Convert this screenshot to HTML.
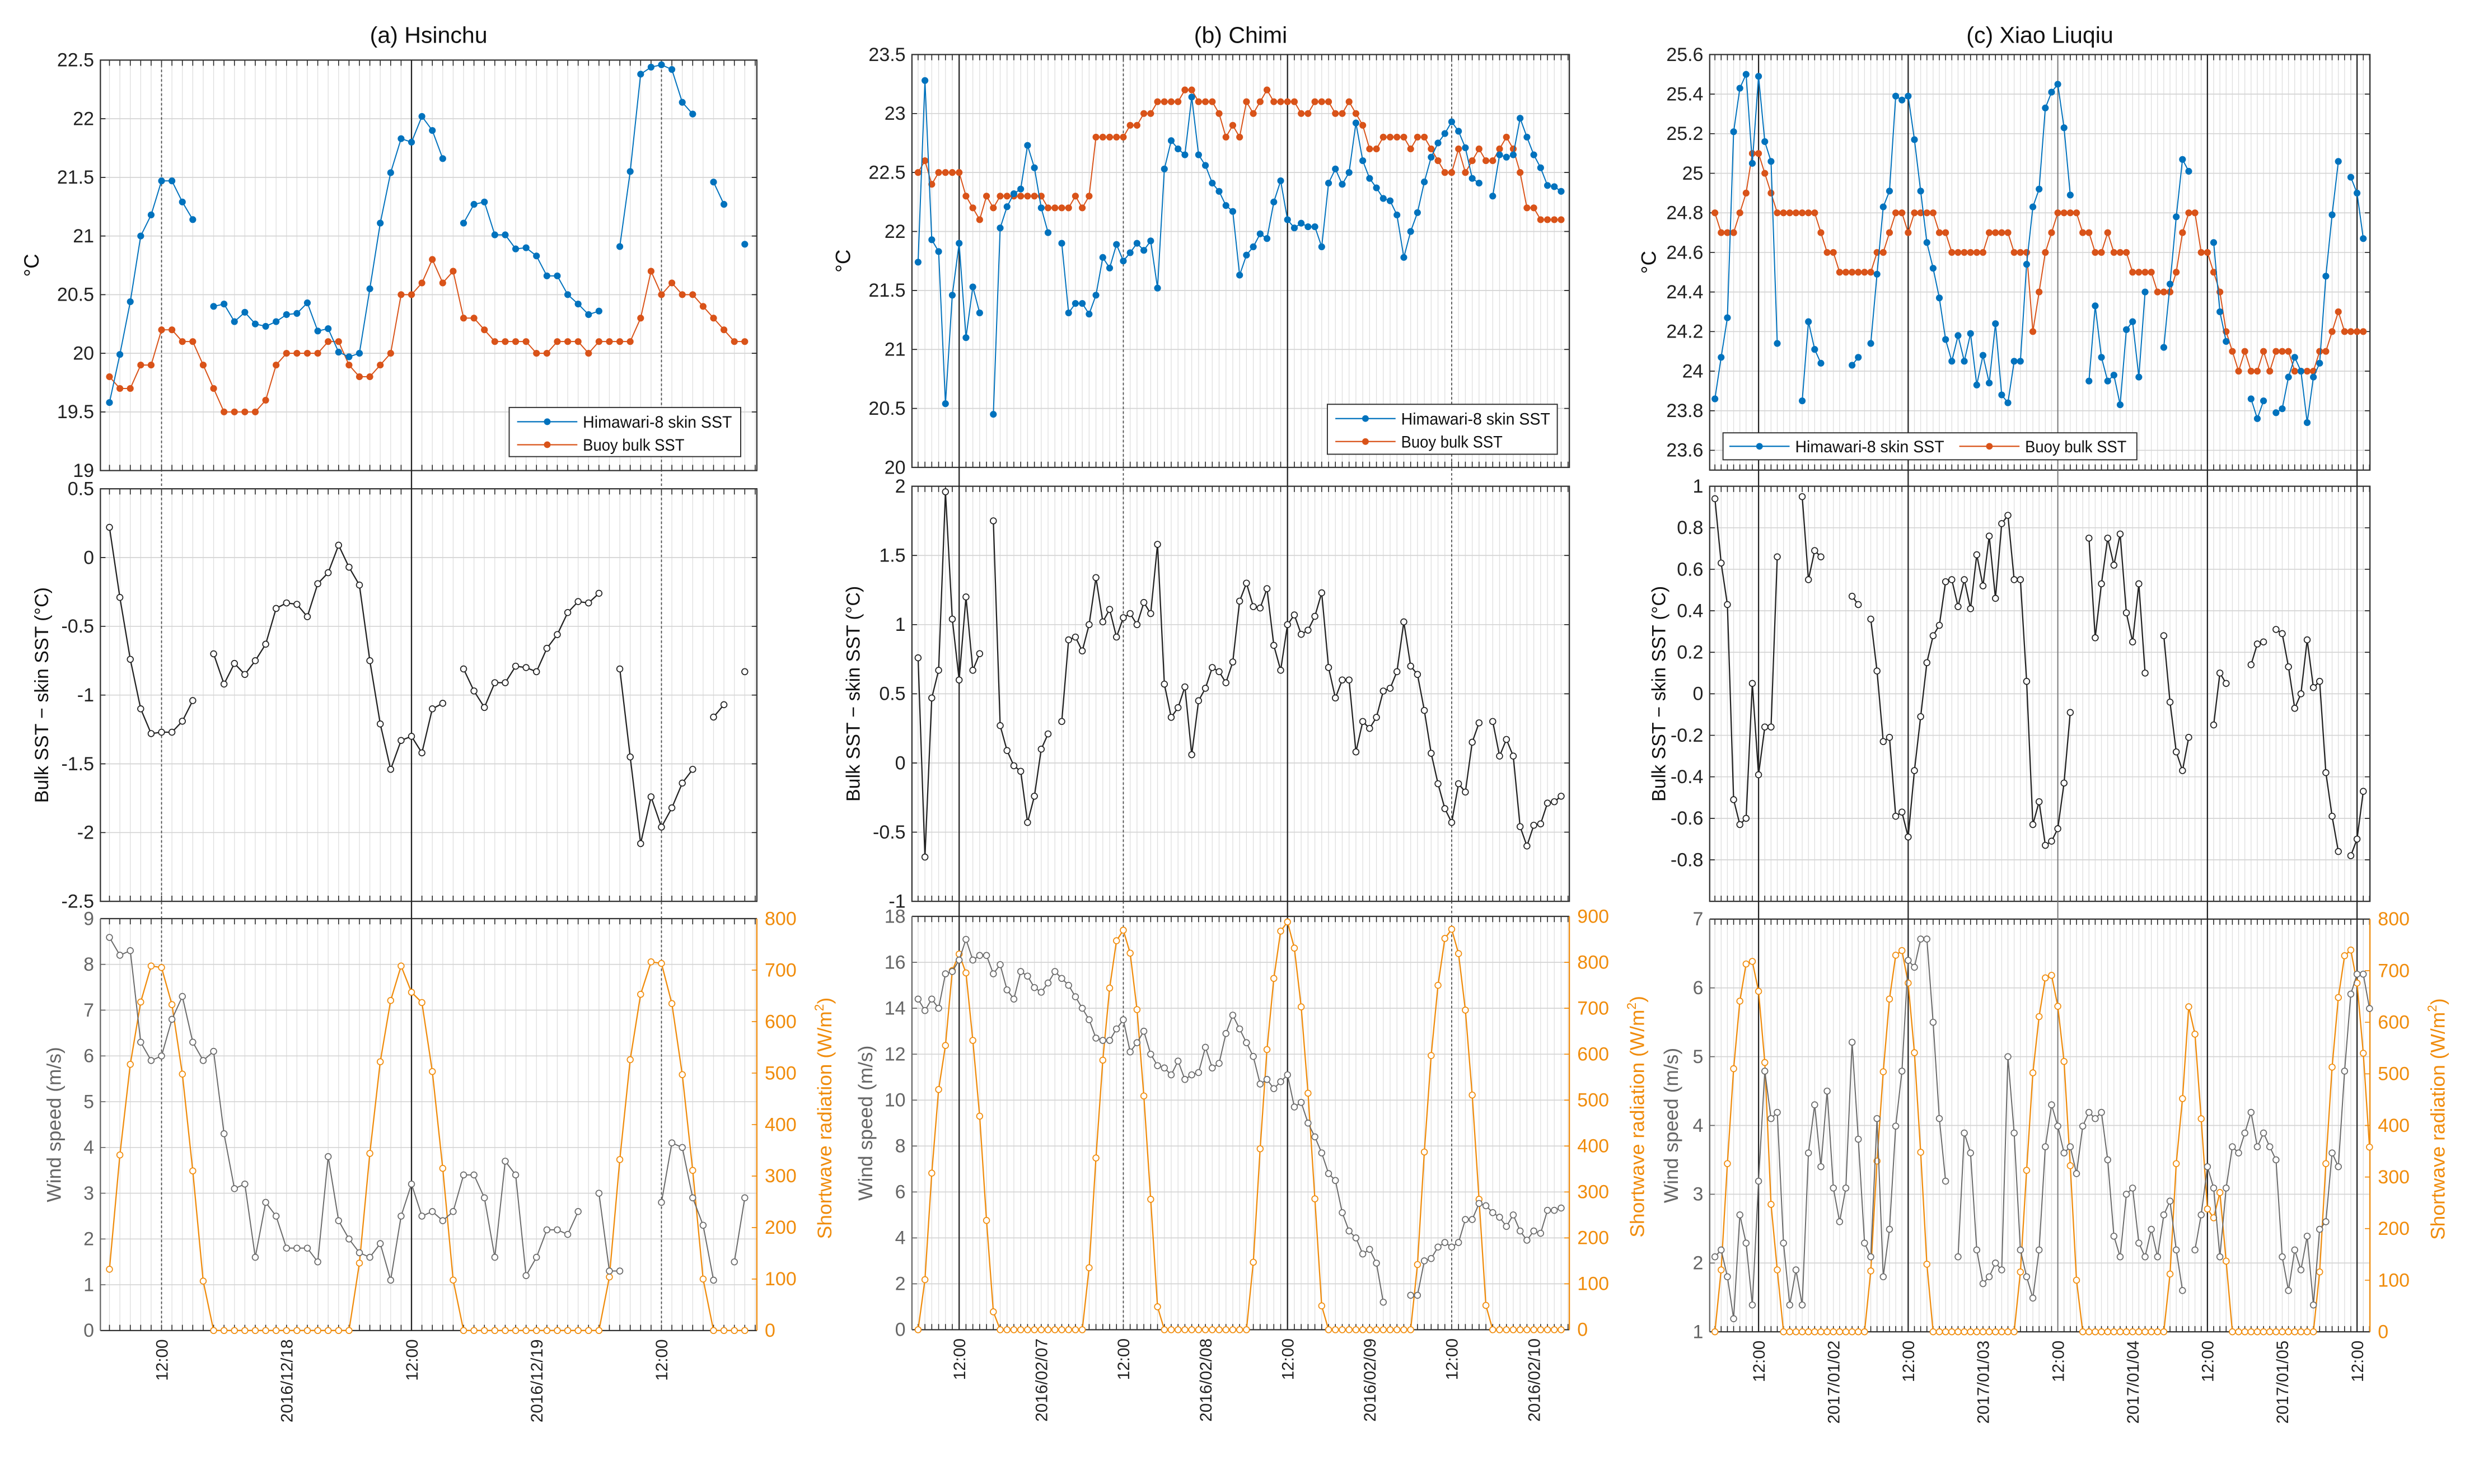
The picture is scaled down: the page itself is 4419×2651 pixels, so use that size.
<!DOCTYPE html>
<html><head><meta charset="utf-8"><title>SST comparison</title>
<style>
html,body{margin:0;padding:0;background:#fff;}
svg{display:block;}
text{font-family:"Liberation Sans",sans-serif;}
</style></head>
<body>
<svg id="fig" xmlns="http://www.w3.org/2000/svg" width="4419" height="2651" viewBox="0 0 1560 936"></svg>
<script>
// ---------- DATA (hourly series) ----------
// Panel (a) Hsinchu, first sample 07:00 2016/12/17
const skinA = [19.58,19.99,20.44,21.0,21.18,21.47,21.47,21.29,21.14,null,
20.40,20.42,20.27,20.35,20.25,20.23,20.27,20.33,20.34,20.43,
20.19,20.21,20.01,19.97,20.0,20.55,21.11,21.54,21.83,21.80,
22.02,21.90,21.66,null,21.11,21.27,21.29,21.01,21.01,20.89,
20.90,20.83,20.66,20.66,20.50,20.42,20.33,20.36,null,20.91,
21.55,22.38,22.44,22.46,22.42,22.14,22.04,null,21.46,21.27,
null,20.93];
const bulkA = [19.8,19.7,19.7,19.9,19.9,20.2,20.2,20.1,20.1,19.9,
19.7,19.5,19.5,19.5,19.5,19.6,19.9,20.0,20.0,20.0,
20.0,20.1,20.1,19.9,19.8,19.8,19.9,20.0,20.5,20.5,
20.6,20.8,20.6,20.7,20.3,20.3,20.2,20.1,20.1,20.1,
20.1,20.0,20.0,20.1,20.1,20.1,20.0,20.1,20.1,20.1,
20.1,20.3,20.7,20.5,20.6,20.5,20.5,20.4,20.3,20.2,
20.1,20.1];
const windA = [8.59,8.2,8.3,6.3,5.9,6.0,6.8,7.3,6.3,5.9,
6.1,4.3,3.1,3.2,1.6,2.8,2.5,1.8,1.8,1.8,
1.5,3.8,2.4,2.0,1.7,1.6,1.9,1.1,2.5,3.2,
2.5,2.6,2.4,2.6,3.4,3.4,2.9,1.6,3.7,3.4,
1.2,1.6,2.2,2.2,2.1,2.6,null,3.0,1.3,1.3,
null,null,null,2.8,4.1,4.0,2.9,2.3,1.1,null,
1.5,2.9];
const swA = [119,341,517,638,708,705,633,498,310,96,
0,0,0,0,0,0,0,0,0,0,
0,0,0,0,131,344,522,641,708,657,
637,503,315,98,0,0,0,0,0,0,
0,0,0,0,0,0,0,0,104,332,
526,653,716,713,635,497,311,100,0,0,
0,0];
// Panel (b) Chimi, first sample 06:00 2016/02/06
const skinB = [21.74,23.28,21.93,21.83,20.54,21.46,21.90,21.10,21.53,21.31,
null,20.45,22.03,22.21,22.32,22.36,22.73,22.54,22.20,21.99,
null,21.90,21.31,21.39,21.39,21.30,21.46,21.78,21.69,21.89,
21.75,21.82,21.90,21.84,21.92,21.52,22.53,22.77,22.70,22.65,
23.14,22.65,22.56,22.41,22.34,22.22,22.17,21.63,21.80,21.87,
21.98,21.94,22.25,22.43,22.10,22.03,22.07,22.04,22.04,21.87,
22.41,22.53,22.40,22.50,22.92,22.60,22.45,22.37,22.28,22.26,
22.14,21.78,22.00,22.16,22.42,22.63,22.75,22.83,22.93,22.85,
22.71,22.45,22.41,null,22.30,22.65,22.63,22.65,22.96,22.80,
22.65,22.54,22.39,22.38,22.34];
const bulkB = [22.5,22.6,22.4,22.5,22.5,22.5,22.5,22.3,22.2,22.1,
22.3,22.2,22.3,22.3,22.3,22.3,22.3,22.3,22.3,22.2,
22.2,22.2,22.2,22.3,22.2,22.3,22.8,22.8,22.8,22.8,
22.8,22.9,22.9,23.0,23.0,23.1,23.1,23.1,23.1,23.2,
23.2,23.1,23.1,23.1,23.0,22.8,22.9,22.8,23.1,23.0,
23.1,23.2,23.1,23.1,23.1,23.1,23.0,23.0,23.1,23.1,
23.1,23.0,23.0,23.1,23.0,22.9,22.7,22.7,22.8,22.8,
22.8,22.8,22.7,22.8,22.8,22.7,22.6,22.5,22.5,22.7,
22.5,22.6,22.7,22.6,22.6,22.7,22.8,22.7,22.5,22.2,
22.2,22.1,22.1,22.1,22.1];
const windB = [14.4,13.9,14.4,14.0,15.5,15.6,16.1,17.0,16.1,16.3,
16.3,15.5,15.9,14.8,14.4,15.6,15.4,14.9,14.7,15.1,
15.6,15.3,15.0,14.5,14.0,13.5,12.7,12.6,12.6,13.1,
13.5,12.1,12.5,13.0,12.0,11.5,11.4,11.1,11.7,10.9,
11.1,11.2,12.3,11.4,11.6,12.9,13.7,13.1,12.5,11.9,
10.7,10.9,10.5,10.8,11.1,9.7,9.9,9.0,8.4,7.7,
6.8,6.5,5.1,4.3,4.0,3.3,3.5,2.9,1.2,null,
null,null,1.5,1.5,3.0,3.1,3.6,3.8,3.6,3.8,
4.8,4.8,5.5,5.4,5.1,4.9,4.5,5.0,4.3,3.9,
4.3,4.2,5.2,5.2,5.3];
const swB = [0,109,341,523,619,782,818,777,630,465,
238,39,0,0,0,0,0,0,0,0,
0,0,0,0,0,135,374,587,744,847,
870,820,697,509,284,50,0,0,0,0,
0,0,0,0,0,0,0,0,0,147,
394,610,765,868,888,831,703,515,285,52,
0,0,0,0,0,0,0,0,0,0,
0,0,0,142,387,597,750,852,872,819,
696,511,284,53,0,0,0,0,0,0,
0,0,0,0,0];
// Panel (c) Xiao Liuqiu, first sample 05:00 2017/01/01
const skinC = [23.86,24.07,24.27,25.21,25.43,25.50,25.05,25.49,25.16,25.06,
24.14,null,null,null,23.85,24.25,24.11,24.04,null,null,
null,null,24.03,24.07,null,24.14,24.49,24.83,24.91,25.39,
25.37,25.39,25.17,24.91,24.65,24.52,24.37,24.16,24.05,24.18,
24.05,24.19,23.93,24.08,23.94,24.24,23.88,23.84,24.05,24.05,
24.54,24.83,24.92,25.33,25.41,25.45,25.23,24.89,null,null,
23.95,24.33,24.07,23.95,23.98,23.83,24.21,24.25,23.97,24.40,
null,null,24.12,24.44,24.78,25.07,25.01,null,null,null,
24.65,24.30,24.15,null,null,null,23.86,23.76,23.85,null,
23.79,23.81,23.97,24.07,24.0,23.74,23.97,24.04,24.48,24.79,
25.06,null,24.98,24.90,24.67];
const bulkC = [24.8,24.7,24.7,24.7,24.8,24.9,25.1,25.1,25.0,24.9,
24.8,24.8,24.8,24.8,24.8,24.8,24.8,24.7,24.6,24.6,
24.5,24.5,24.5,24.5,24.5,24.5,24.6,24.6,24.7,24.8,
24.8,24.7,24.8,24.8,24.8,24.8,24.7,24.7,24.6,24.6,
24.6,24.6,24.6,24.6,24.7,24.7,24.7,24.7,24.6,24.6,
24.6,24.2,24.4,24.6,24.7,24.8,24.8,24.8,24.8,24.7,
24.7,24.6,24.6,24.7,24.6,24.6,24.6,24.5,24.5,24.5,
24.5,24.4,24.4,24.4,24.5,24.7,24.8,24.8,24.6,24.6,
24.5,24.4,24.2,24.1,24.0,24.1,24.0,24.0,24.1,24.0,
24.1,24.1,24.1,24.0,24.0,24.0,24.0,24.1,24.1,24.2,
24.3,24.2,24.2,24.2,24.2];
const windC = [2.09,2.19,1.80,1.19,2.70,2.29,1.39,3.19,4.79,4.10,
4.19,2.29,1.39,1.90,1.39,3.60,4.30,3.40,4.50,3.09,
2.60,3.09,5.21,3.80,2.29,2.09,4.10,1.80,2.49,3.99,
4.79,6.40,6.30,6.71,6.71,5.50,4.10,3.19,null,2.09,
3.89,3.60,2.19,1.70,1.80,2.00,1.90,5.00,3.89,2.19,
1.80,1.49,2.19,3.69,4.30,3.99,3.60,3.69,3.30,3.99,
4.19,4.10,4.19,3.50,2.39,2.09,3.00,3.09,2.29,2.09,
2.49,2.09,2.70,2.90,2.19,1.60,null,2.19,2.70,3.40,
3.09,2.09,3.09,3.69,3.60,3.89,4.19,3.69,3.89,3.69,
3.50,2.09,1.60,2.19,1.90,2.39,1.39,2.49,2.60,3.60,
3.40,4.79,5.91,6.20,6.20,5.70];
const swC = [0,120,326,510,641,713,718,660,522,247,
120,0,0,0,0,0,0,0,0,0,
0,0,0,0,0,118,331,504,645,730,
739,676,541,348,131,0,0,0,0,0,
0,0,0,0,0,0,0,0,0,116,
313,502,611,686,691,631,524,322,100,0,
0,0,0,0,0,0,0,0,0,0,
0,0,0,112,326,452,630,577,413,238,
221,270,137,0,0,0,0,0,0,0,
0,0,0,0,0,0,0,116,326,513,
648,729,740,676,540,358];
// tick values / labels
const tempTicksA = [19,19.5,20,20.5,21,21.5,22,22.5];
const tempTicksB = [20,20.5,21,21.5,22,22.5,23,23.5];
const tempTicksC = [23.6,23.8,24,24.2,24.4,24.6,24.8,25,25.2,25.4,25.6];
const diffTicksA = [-2.5,-2,-1.5,-1,-0.5,0,0.5];
const diffTicksB = [-1,-0.5,0,0.5,1,1.5,2];
const diffTicksC = [-0.8,-0.6,-0.4,-0.2,0,0.2,0.4,0.6,0.8,1];
const windTicksA = [0,1,2,3,4,5,6,7,8,9];
const windTicksB = [0,2,4,6,8,10,12,14,16,18];
const windTicksC = [1,2,3,4,5,6,7];
const swTicksA = [0,100,200,300,400,500,600,700,800];
const swTicksB = [0,100,200,300,400,500,600,700,800,900];
const swTicksC = [0,100,200,300,400,500,600,700,800];
const timeTickHoursA = [12,24,36,48,60];
const timeTickLabelsA = ['12:00','2016/12/18','12:00','2016/12/19','12:00'];
const timeTickHoursB = [12,24,36,48,60,72,84,96];
const timeTickLabelsB = ['12:00','2016/02/07','12:00','2016/02/08','12:00','2016/02/09','12:00','2016/02/10'];
const timeTickHoursC = [12,24,36,48,60,72,84,96,108];
const timeTickLabelsC = ['12:00','2017/01/02','12:00','2017/01/03','12:00','2017/01/04','12:00','2017/01/05','12:00'];

// ---------- LAYOUT ----------
const C_SKIN='#0072BD', C_BULK='#D95319', C_SW='#F08C0C', C_WIND='#6a6a6a';
const panels = [
 {key:'a', title:'(a) Hsinchu', x0:63.2, x1:477.2, h0:6.13, h1:69.16, start:7,
  skin:skinA, bulk:bulkA, wind:windA, sw:swA,
  top:{y0:37.9,y1:296.8,min:19,max:22.5,ticks:tempTicksA},
  mid:{y0:308.3,y1:568.5,min:-2.5,max:0.5,ticks:diffTicksA},
  bot:{y0:579.4,y1:839.2,min:0,max:9,ticks:windTicksA,rmin:0,rmax:800,rticks:swTicksA},
  tHours:timeTickHoursA, tLabels:timeTickLabelsA,
  vlines:[[12,'dash'],[36,'solid'],[60,'dash']],
  legend:{x:321,y:257,w:146,h:31,horiz:false}},
 {key:'b', title:'(b) Chimi', x0:575, x1:989.6, h0:5.10, h1:101.2, start:6,
  skin:skinB, bulk:bulkB, wind:windB, sw:swB,
  top:{y0:34.4,y1:294.8,min:20,max:23.5,ticks:tempTicksB},
  mid:{y0:306.7,y1:568.5,min:-1,max:2,ticks:diffTicksB},
  bot:{y0:578,y1:838.7,min:0,max:18,ticks:windTicksB,rmin:0,rmax:900,rticks:swTicksB},
  tHours:timeTickHoursB, tLabels:timeTickLabelsB,
  vlines:[[12,'solid'],[36,'dash'],[60,'solid'],[84,'dash']],
  legend:{x:837,y:255,w:145,h:31.5,horiz:false}},
 {key:'c', title:'(c) Xiao Liuqiu', x0:1078.1, x1:1494.5, h0:4.16, h1:110.07, start:5,
  skin:skinC, bulk:bulkC, wind:windC, sw:swC,
  top:{y0:34.4,y1:296.5,min:23.5,max:25.6,ticks:tempTicksC},
  mid:{y0:306.7,y1:568.5,min:-1,max:1,ticks:diffTicksC},
  bot:{y0:579.7,y1:840,min:1,max:7,ticks:windTicksC,rmin:0,rmax:800,rticks:swTicksC},
  tHours:timeTickHoursC, tLabels:timeTickLabelsC,
  vlines:[[12,'solid'],[36,'solid'],[60,'grey'],[84,'solid'],[108,'solid']],
  legend:{x:1086.5,y:273,w:261,h:17,horiz:true}}
];

const NS='http://www.w3.org/2000/svg';
const svg=document.getElementById('fig');
function mk(tag, attrs, parent){
  const el=document.createElementNS(NS,tag);
  for(const k in attrs) el.setAttribute(k, attrs[k]);
  (parent||svg).appendChild(el);
  return el;
}
function fmt(v){ return String(+v.toFixed(2)); }
function linePath(xs, ys){
  let d='', pen=false;
  for(let i=0;i<xs.length;i++){
    if(ys[i]==null){pen=false;continue;}
    d += (pen?'L':'M') + xs[i].toFixed(2) + ' ' + ys[i].toFixed(2);
    pen=true;
  }
  return d;
}

panels.forEach(p=>{
  const g=mk('g',{});
  
  
  const sx=h=>p.x0+(h-p.h0)/(p.h1-p.h0)*(p.x1-p.x0);
  const sy=(ax,v)=>ax.y1-(v-ax.min)/(ax.max-ax.min)*(ax.y1-ax.y0);
  const syr=(ax,v)=>ax.y1-(v-ax.rmin)/(ax.rmax-ax.rmin)*(ax.y1-ax.y0);
  const hours=arr=>arr.map((_,i)=>p.start+i);
  const diff=p.skin.map((s,i)=>(s==null||p.bulk[i]==null)?null:+(p.bulk[i]-s).toFixed(3));
  const hMin=Math.ceil(p.h0), hMax=Math.floor(p.h1);

  const t=mk('text',{x:(p.x0+p.x1)/2,y:27,'text-anchor':'middle','font-size':14.5,fill:'#111'},g);
  t.textContent=p.title;
  
  

  ['top','mid','bot'].forEach(role=>{
    const ax=p[role];
    const ag=mk('g',{},g);
    
    
    let d='';
    for(let h=hMin;h<=hMax;h++){ const x=sx(h).toFixed(2); d+='M'+x+' '+ax.y0+'V'+ax.y1; }
    const vg=mk('path',{d:d,stroke:'#dedede','stroke-width':0.45,fill:'none'},ag);
    
    
    d='';
    ax.ticks.forEach(v=>{ const y=sy(ax,v).toFixed(2); d+='M'+p.x0+' '+y+'H'+p.x1; });
    const hg=mk('path',{d:d,stroke:'#d4d4d4','stroke-width':0.6,fill:'none'},ag);
    
    
    d='';
    for(let h=hMin;h<=hMax;h++){ const x=sx(h).toFixed(2); d+='M'+x+' '+ax.y0+'v3.6M'+x+' '+ax.y1+'v-3.6'; }
    const ht=mk('path',{d:d,stroke:'#222','stroke-width':0.55,fill:'none'},ag);
    
    
    const leftColor = role==='bot' ? '#666' : '#222';
    d='';
    ax.ticks.forEach(v=>{
      const y=sy(ax,v);
      d+='M'+p.x0+' '+y.toFixed(2)+'h3.2';
      if(role!=='bot') d+='M'+p.x1+' '+y.toFixed(2)+'h-3.2';
      const lt=mk('text',{x:p.x0-4,y:y+4,'text-anchor':'end','font-size':12,fill:leftColor},ag);
      lt.textContent=fmt(v);
      
      
    });
    const yt=mk('path',{d:d,stroke:leftColor,'stroke-width':0.6,fill:'none'},ag);
    
    
    if(role==='bot'){
      d='';
      ax.rticks.forEach(v=>{
        const y=syr(ax,v);
        d+='M'+p.x1+' '+y.toFixed(2)+'h-3.2';
        const rt=mk('text',{x:p.x1+5,y:y+4,'text-anchor':'start','font-size':12,fill:C_SW},ag);
        rt.textContent=fmt(v);
        
        
      });
      const rtk=mk('path',{d:d,stroke:C_SW,'stroke-width':0.6,fill:'none'},ag);
      
      
    }
    if(role==='bot'){
      const b1=mk('path',{d:'M'+p.x0+' '+ax.y0+'H'+p.x1+'M'+p.x0+' '+ax.y1+'H'+p.x1,stroke:'#333','stroke-width':0.8,fill:'none'},ag);
      
      
      const b2=mk('line',{x1:p.x0,y1:ax.y0,x2:p.x0,y2:ax.y1,stroke:'#666','stroke-width':0.8},ag);
      
      
      const b3=mk('line',{x1:p.x1,y1:ax.y0,x2:p.x1,y2:ax.y1,stroke:C_SW,'stroke-width':0.8},ag);
      
      
    } else {
      const bx=mk('rect',{x:p.x0,y:ax.y0,width:p.x1-p.x0,height:ax.y1-ax.y0,fill:'none',stroke:'#333','stroke-width':0.8},ag);
      
      
    }
  });

  p.vlines.forEach(v=>{
    const x=sx(v[0]);
    const st = v[1]==='solid'?{stroke:'#222','stroke-width':0.8}:
               v[1]==='grey'?{stroke:'#777','stroke-width':0.7}:
               {stroke:'#444','stroke-width':0.6,'stroke-dasharray':'1.6 1.4'};
    const l=mk('line',Object.assign({x1:x,x2:x,y1:p.top.y0,y2:p.bot.y1},st),g);
    
    
  });

  function series(arr, ax, yfun, color, width, filled, name){
    const hs=hours(arr);
    const xs=hs.map(sx);
    const ys=arr.map(v=>v==null?null:yfun(ax,v));
    const sg=mk('g',{},g);
    
    
    const pl=mk('path',{d:linePath(xs,ys),stroke:color,'stroke-width':width,fill:'none','stroke-linejoin':'round'},sg);
    
    
    arr.forEach((v,i)=>{
      if(v==null) return;
      const c=mk('circle',{cx:xs[i].toFixed(2),cy:ys[i].toFixed(2),r:filled?2.0:1.9,
        fill:filled?color:'#fff',stroke:color,'stroke-width':filled?0.3:0.6},sg);
      
      
    });
  }
  series(p.bulk,p.top,sy,C_BULK,0.7,true,'buoy-bulk-sst-'+p.key);
  series(p.skin,p.top,sy,C_SKIN,0.7,true,'himawari-skin-sst-'+p.key);
  series(diff,p.mid,sy,'#222',0.8,false,'bulk-minus-skin-'+p.key);
  series(p.sw,p.bot,syr,C_SW,0.8,false,'shortwave-radiation-'+p.key);
  series(p.wind,p.bot,sy,C_WIND,0.7,false,'wind-speed-'+p.key);

  p.tHours.forEach((h,i)=>{
    const x=sx(h);
    const lab=mk('text',{x:0,y:0,'text-anchor':'end','font-size':10.5,fill:'#222',
      transform:'translate('+(x+3.8).toFixed(2)+','+(p.bot.y1+5.5)+') rotate(-90)'},g);
    lab.textContent=p.tLabels[i];
    
    
  });

  function ylab(txt, x, y, color, size, name){
    const e=mk('text',{x:0,y:0,'text-anchor':'middle','font-size':size,fill:color,
      transform:'translate('+x+','+y+') rotate(-90)'},g);
    e.textContent=txt;
    
    
    return e;
  }
  const off = p.key==='c'?5:0;
  ylab('°C', p.x0-39+off, (p.top.y0+p.top.y1)/2, '#111', 13, 'sst-axis-title');
  ylab('Bulk SST − skin SST (°C)', p.x0-33+off, (p.mid.y0+p.mid.y1)/2, '#111', 12, 'difference-axis-title');
  ylab('Wind speed (m/s)', p.x0-25+off, (p.bot.y0+p.bot.y1)/2, '#666', 12.5, 'wind-axis-title');
  const sw=ylab('Shortwave radiation (W/m', p.x1+47, (p.bot.y0+p.bot.y1)/2-4, C_SW, 12.5, 'shortwave-axis-title');
  const sup=document.createElementNS(NS,'tspan');
  sup.setAttribute('dy','-5'); sup.setAttribute('font-size','8');
  sup.textContent='2';
  sw.appendChild(sup);
  const close=document.createElementNS(NS,'tspan');
  close.setAttribute('dy','5');
  close.textContent=')';
  sw.appendChild(close);

  const L=p.legend;
  const lg=mk('g',{},g);
  
  
  const lb=mk('rect',{x:L.x,y:L.y,width:L.w,height:L.h,fill:'#fff',stroke:'#333','stroke-width':0.7},lg);
  
  
  const entries=[['Himawari-8 skin SST',C_SKIN,94],['Buoy bulk SST',C_BULK,64]];
  entries.forEach((e,k)=>{
    let lx, ly;
    const sl=38;
    if(L.horiz){ lx = k===0 ? L.x+4 : L.x+149; ly = L.y+L.h/2; }
    else { lx = L.x+5; ly = L.y+9+k*14.5; }
    const eg=mk('g',{},lg);
    
    
    const ll=mk('line',{x1:lx,x2:lx+sl,y1:ly,y2:ly,stroke:e[1],'stroke-width':0.8},eg);
    
    
    const lc=mk('circle',{cx:lx+sl/2,cy:ly,r:2.1,fill:e[1]},eg);
    
    
    const lt=mk('text',{x:lx+sl+3.5,y:ly+3.8,'font-size':10.5,fill:'#111',textLength:e[2],lengthAdjust:'spacingAndGlyphs'},eg);
    lt.textContent=e[0];
    
    
  });
});
</script>
</body></html>
